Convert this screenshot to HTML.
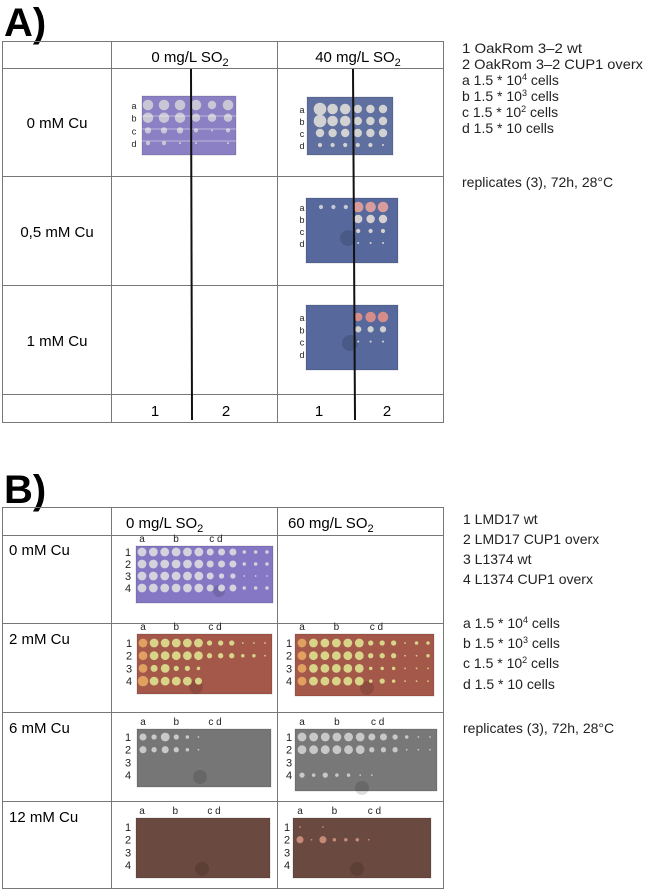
<!DOCTYPE html>
<html><head><meta charset="utf-8"><style>
html,body{margin:0;padding:0;background:#fff;width:645px;height:892px;overflow:hidden}
svg{display:block;font-family:"Liberation Sans",sans-serif}
</style></head><body>
<svg id="fig" width="645" height="892" viewBox="0 0 645 892">
<g>
<text x="4" y="36" font-size="40" font-weight="bold">A)</text>
<g stroke="#777" stroke-width="1" fill="none">
<rect x="2.5" y="41.5" width="441" height="381"/>
<line x1="2" y1="68.5" x2="443" y2="68.5"/><line x1="2" y1="176.5" x2="443" y2="176.5"/>
<line x1="2" y1="285.5" x2="443" y2="285.5"/><line x1="2" y1="394.5" x2="443" y2="394.5"/>
<line x1="111.5" y1="41" x2="111.5" y2="422"/><line x1="277.5" y1="41" x2="277.5" y2="422"/>
</g>
<g font-size="15" text-anchor="middle">
<text x="190" y="62">0 mg/L SO<tspan font-size="11" dy="4">2</tspan></text>
<text x="358" y="62">40 mg/L SO<tspan font-size="11" dy="4">2</tspan></text>
<text x="57" y="128">0 mM Cu</text>
<text x="57" y="237">0,5 mM Cu</text>
<text x="57" y="346">1 mM Cu</text>
<text x="155" y="416">1</text><text x="226" y="416">2</text>
<text x="319" y="416">1</text><text x="387" y="416">2</text>
</g>
<g id="platesA"></g>
<g stroke="#111" stroke-width="2">
<line x1="191" y1="69" x2="192" y2="420"/><line x1="353" y1="69" x2="355" y2="420"/>
</g>
<g font-size="14" fill="#222">
<text x="462" y="53" textLength="120" lengthAdjust="spacingAndGlyphs">1 OakRom 3–2 wt</text>
<text x="462" y="69" textLength="181" lengthAdjust="spacingAndGlyphs">2 OakRom 3–2 CUP1 overx</text>
<text x="462" y="85">a 1.5 * 10<tspan font-size="9" dy="-5">4</tspan><tspan dy="5"> cells</tspan></text>
<text x="462" y="101">b 1.5 * 10<tspan font-size="9" dy="-5">3</tspan><tspan dy="5"> cells</tspan></text>
<text x="462" y="117">c 1.5 * 10<tspan font-size="9" dy="-5">2</tspan><tspan dy="5"> cells</tspan></text>
<text x="462" y="133">d 1.5 * 10 cells</text>
<text x="462" y="187">replicates (3), 72h, 28°C</text>
</g>
</g>
<g>
<text x="4" y="503" font-size="40" font-weight="bold">B)</text>
<g stroke="#777" stroke-width="1" fill="none">
<rect x="2.5" y="507.5" width="441" height="381"/>
<line x1="2" y1="535.5" x2="443" y2="535.5"/><line x1="2" y1="623.5" x2="443" y2="623.5"/>
<line x1="2" y1="712.5" x2="443" y2="712.5"/><line x1="2" y1="801.5" x2="443" y2="801.5"/>
<line x1="111.5" y1="507" x2="111.5" y2="889"/><line x1="277.5" y1="507" x2="277.5" y2="889"/>
</g>
<g font-size="15">
<text x="126" y="528">0 mg/L SO<tspan font-size="11" dy="4">2</tspan></text>
<text x="288" y="528">60 mg/L SO<tspan font-size="11" dy="4">2</tspan></text>
<text x="9" y="555">0 mM Cu</text>
<text x="9" y="644">2 mM Cu</text>
<text x="9" y="733">6 mM Cu</text>
<text x="9" y="822">12 mM Cu</text>
</g>
<g id="platesB"></g>
<g font-size="14" fill="#222">
<text x="463" y="524">1 LMD17 wt</text>
<text x="463" y="544">2 LMD17 CUP1 overx</text>
<text x="463" y="564">3 L1374 wt</text>
<text x="463" y="584">4 L1374 CUP1 overx</text>
<text x="463" y="628">a 1.5 * 10<tspan font-size="9" dy="-5">4</tspan><tspan dy="5"> cells</tspan></text>
<text x="463" y="648">b 1.5 * 10<tspan font-size="9" dy="-5">3</tspan><tspan dy="5"> cells</tspan></text>
<text x="463" y="668">c 1.5 * 10<tspan font-size="9" dy="-5">2</tspan><tspan dy="5"> cells</tspan></text>
<text x="463" y="689">d 1.5 * 10 cells</text>
<text x="463" y="733">replicates (3), 72h, 28°C</text>
</g>
</g>
</svg>
<script>
// Growth (spot radius) matrices read from the plates
const aPlate1=[[5,5,5,5,4,5],[5,5,5,4,4,4],[3,3,3,2,1,2],[2,2,1,1,0,1]];
const aPlate2=[[6,5,5,4,4,4],[6,5,5,4,4,4],[4,4,4,4,4,4],[2,2,2,2,2,1]];
const aPlate3=[[2,2,2,5,5,5],[0,0,0,4,4,4],[0,0,0,2,2,2],[0,0,0,1,1,1]];
const aPlate4=[[0,0,0,4,5,5],[0,0,0,3,3,3],[0,0,0,1,1,1],[0,0,0,0,0,0]];
const b0c1=[[5,5,5,5,5,5,4,4,4,2,2,2],[5,5,5,5,5,5,4,4,4,2,2,2],[5,5,5,5,5,5,4,3,3,1,1,1],[5,5,5,5,5,5,4,4,4,2,2,2]];
const b2c1=[[5,5,5,5,5,5,3,3,3,1,1,1],[5,5,5,5,5,5,3,3,3,2,2,1],[5,4,5,3,3,2,0,0,0,0,0,0],[6,5,5,5,5,4,0,0,0,0,0,0]];
const b2c2=[[5,5,5,5,5,5,3,3,3,1,2,2],[5,5,5,5,5,5,3,3,3,1,1,2],[5,5,5,5,5,5,2,2,2,1,1,1],[5,5,5,5,5,5,2,3,2,1,1,1]];
const b6c1=[[4,3,5,3,2,1,0,0,0,0,0,0],[4,3,4,3,2,1,0,0,0,0,0,0],[0,0,0,0,0,0,0,0,0,0,0,0],[0,0,0,0,0,0,0,0,0,0,0,0]];
const b6c2=[[5,5,5,5,5,5,4,4,3,2,1,1],[5,5,5,5,5,5,3,3,3,1,1,1],[0,0,0,0,0,0,0,0,0,0,0,0],[3,2,3,2,2,1,1,0,0,0,0,0]];
const b12c1=[[0,0,0,0,0,0,0,0,0,0,0,0],[0,0,0,0,0,0,0,0,0,0,0,0],[0,0,0,0,0,0,0,0,0,0,0,0],[0,0,0,0,0,0,0,0,0,0,0,0]];
const b12c2=[[1,0,1,0,0,0,0,0,0,0,0,0],[4,1,4,2,2,2,1,0,0,0,0,0],[0,0,0,0,0,0,0,0,0,0,0,0],[0,0,0,0,0,0,0,0,0,0,0,0]];
const rowLettersA=['a','b','c','d'];
const rowNumbersB=['1','2','3','4'];

const NS='http://www.w3.org/2000/svg';
function mk(parent,tag,attrs){const e=document.createElementNS(NS,tag);for(const k in attrs)e.setAttribute(k,attrs[k]);parent.appendChild(e);return e;}

function plate(parent,name,x,y,w,h,bg,spot,m,sx,ex,sy,dy,stain,labels,lx,colLab,altSpot,scale){
  const g=mk(parent,'g',{});
  
  
  const r=mk(g,'rect',{x:x,y:y,width:w,height:h,fill:bg,stroke:'rgba(0,0,0,0.15)'});
  
  
  if(stain){const s=mk(g,'circle',{cx:stain[0],cy:stain[1],r:stain[2],fill:'rgba(0,0,0,0.13)'});
    
    }
  const cols=m[0].length, step=(ex-sx)/(cols-1);
  m.forEach((row,i)=>{row.forEach((v,j)=>{ if(v<=0)return;
    const c=mk(g,'circle',{cx:sx+j*step,cy:sy+i*dy,r:v*scale,fill:(altSpot&&altSpot(i,j))||spot});
    
    
  });});
  labels.forEach((t,i)=>{const e=mk(g,'text',{x:lx,y:sy+i*dy+4,'font-size':labels===rowLettersA?9:11,'text-anchor':'middle',fill:'#222'});e.textContent=t;
    
    });
  if(colLab){[['a',0],['b',3],['c d',6.5]].forEach(([t,k])=>{const e=mk(g,'text',{x:sx+k*step,y:y-4,'font-size':10,'text-anchor':'middle',fill:'#222'});e.textContent=t;
    
    });}
}
const pA=document.getElementById('platesA');
plate(pA,'plate-a-0cu-0so2',142,96,94,59,'#8c80c4','#c9c6d6',aPlate1,148,228,105,12.7,null,rowLettersA,134,false,null,1.05);
[116,129,141].forEach(yy=>mk(pA,'line',{x1:142,x2:236,y1:yy,y2:yy,stroke:'rgba(255,255,255,0.45)'}));
plate(pA,'plate-a-0cu-40so2',307,97,86,58,'#5f6f9f','#d2d2d2',aPlate2,320,383,109,12,null,rowLettersA,302,false,null,1.05);
const pink=(i,j)=>j>=3?'#d99c9c':'#c8c8d4';
plate(pA,'plate-a-05cu-40so2',306,198,92,65,'#56689c','#d0d0d0',aPlate3,321,383,207,12,[348,238,8],rowLettersA,302,false,(i,j)=>i==0?pink(i,j):(j>=3?'#d6d0d0':null),1.05);
plate(pA,'plate-a-1cu-40so2',306,305,92,65,'#56689c','#d0d0d0',aPlate4,321,383,317,12.3,[350,343,8],rowLettersA,302,false,(i,j)=>i==0&&j>=3?'#d68c88':null,1.05);
const pB=document.getElementById('platesB');
const sB=0.88;
plate(pB,'plate-b-0cu-0so2',136,546,137,57,'#8577c4','#d4d2dc',b0c1,142,267,552,12,[219,591,6],rowNumbersB,128,true,null,sB);
plate(pB,'plate-b-2cu-0so2',137,634,135,60,'#a4584a','#d8d488',b2c1,143,265,643,12.7,[196,687,7],rowNumbersB,129,true,(i,j)=>j==0?'#e0a060':null,sB);
plate(pB,'plate-b-2cu-60so2',295,634,139,62,'#a4584a','#d8d488',b2c2,302,428,643,12.7,[367,688,7],rowNumbersB,289,true,(i,j)=>j==0?'#e0a060':null,sB);
plate(pB,'plate-b-6cu-0so2',137,729,134,58,'#767676','#c9c9c9',b6c1,143,265,737,12.7,[200,777,7],rowNumbersB,128,true,null,sB);
plate(pB,'plate-b-6cu-60so2',295,729,142,62,'#787878','#c8c8c8',b6c2,302,430,737,12.7,[362,788,7],rowNumbersB,289,true,null,sB);
plate(pB,'plate-b-12cu-0so2',136,818,134,60,'#6a4a40','#c08070',b12c1,142,264,827,12.7,[202,869,7],rowNumbersB,128,true,null,sB);
plate(pB,'plate-b-12cu-60so2',293,818,138,60,'#6a4a40','#c88a78',b12c2,300,426,827,12.7,[357,869,7],rowNumbersB,287,true,null,sB);
</script>
</body></html>
